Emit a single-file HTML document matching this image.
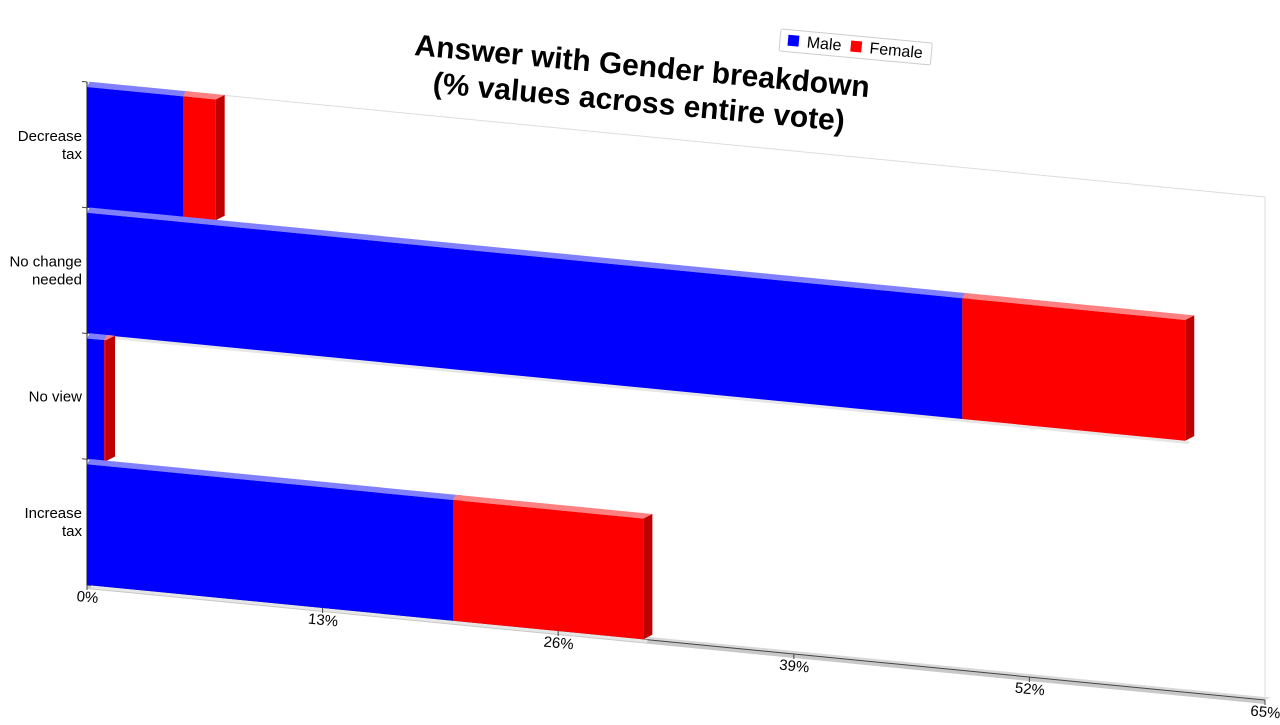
<!DOCTYPE html>
<html><head><meta charset="utf-8"><style>
body{margin:0;background:#fff;width:1280px;height:720px;overflow:hidden;font-family:"Liberation Sans",sans-serif}
</style></head><body>
<svg id="chart" width="1280" height="720" viewBox="0 0 1280 720" xmlns="http://www.w3.org/2000/svg">
<g transform="translate(640,90) rotate(5.3)">
<text x="0" y="-14" text-anchor="middle" font-size="30" font-weight="bold" fill="#000">Answer with Gender breakdown</text>
<text x="0" y="22" text-anchor="middle" font-size="30" font-weight="bold" fill="#000">(% values across entire vote)</text>
</g>
<g transform="translate(781,29) rotate(5.3)">
<rect x="0" y="0" width="152" height="22" fill="#fff" stroke="#ccc" rx="2"/>
<rect x="8" y="5" width="11" height="11" fill="#0000ff"/>
<text x="27" y="16" font-size="16">Male</text>
<rect x="71" y="5" width="11" height="11" fill="#ff0000"/>
<text x="90" y="16" font-size="16">Female</text>
</g>
<g id="plot"></g>
<g id="labels"></g>
</svg>
<script>
const categories=["Decrease tax","No change needed","No view","Increase tax"];
const categoryLines=[["Decrease","tax"],["No change","needed"],["No view"],["Increase","tax"]];
const maleValues=[5.3,48.3,0.95,20.2];
const femaleValues=[1.8,12.3,0.1,10.5];
const tickValues=[0,13,26,39,52,65];
const tickLabels=["0%","13%","26%","39%","52%","65%"];

const NS="http://www.w3.org/2000/svg";
const X0=87,X1=1265,MAXV=65,TOP=82,BOT=585,K=115/1178;
const xs=v=>X0+(v/MAXV)*(X1-X0);
const band=(BOT-TOP)/categories.length;
const plot=document.getElementById('plot');
const labels=document.getElementById('labels');
function mk(tag,attrs,parent){const e=document.createElementNS(NS,tag);for(const k in attrs)e.setAttribute(k,attrs[k]);parent.appendChild(e);return e;}
const g=mk('g',{transform:`matrix(1,${K},0,1,0,${-X0*K})`},plot);
// back wall / floor
const floor=mk('polygon',{points:`${X0},${BOT} ${X1},${BOT} ${X1+6},${BOT-3} ${X0+6},${BOT-3}`,fill:'#d8d8d8'},g);


const floor2=mk('rect',{x:X0,y:BOT,width:X1-X0,height:4,fill:'#c8c8c8'},g);


const wall=mk('polyline',{points:`${X0},${BOT} ${X0},${TOP} ${X1},${TOP} ${X1},${BOT}`,fill:'none',stroke:'#ddd','stroke-width':1},g);


const yaxis=mk('line',{x1:X0,y1:TOP,x2:X0,y2:BOT,stroke:'#444','stroke-width':1.2},g);


const xaxis=mk('line',{x1:X0,y1:BOT,x2:X1,y2:BOT,stroke:'#444','stroke-width':1},g);


const DX=9,DY=-5.5;
function bar3d(x0,x1,y0,y1,front,top,side,name){
  const bg=mk('g',{},g);
  
  
  mk('polygon',{points:`${x0},${y0} ${x1},${y0} ${x1+DX},${y0+DY} ${x0+DX*0.3},${y0+DY}`,fill:top},bg);
  mk('rect',{x:x0,y:y0,width:Math.max(x1-x0,0.5),height:y1-y0,fill:front},bg);
  mk('polygon',{points:`${x1},${y0} ${x1+DX},${y0+DY} ${x1+DX},${y1+DY} ${x1},${y1}`,fill:side},bg);
}
categories.forEach((c,i)=>{
  const y0=TOP+i*band+5,y1=TOP+(i+1)*band;
  const xm=xs(maleValues[i]),xf=xs(maleValues[i]+femaleValues[i]);
  mk('rect',{x:X0+4,y:y1,width:xf-X0,height:3,fill:'#e6e6e6'},g);
  bar3d(X0,xm,y0,y1,'#0000ff','#8080ff','#0000b0','bar-male-'+i);
  bar3d(xm,xf,y0,y1,'#ff0000','#ff8080','#c00000','bar-female-'+i);
  const tk=mk('line',{x1:X0-5,y1:TOP+i*band,x2:X0,y2:TOP+i*band,stroke:'#444'},g);
  
  
  const lines=categoryLines[i];const cy=TOP+(i+0.5)*band;
  const t=mk('text',{x:82,y:cy-(lines.length-1)*9+5,'text-anchor':'end','font-size':15,fill:'#000'},labels);
  
  
  lines.forEach((l,j)=>{const s=mk('tspan',{x:82,dy:j?18:0},t);s.textContent=l;});
});
tickValues.forEach((v,i)=>{
  const x=xs(v);
  const tk=mk('line',{x1:x,y1:BOT,x2:x,y2:BOT+5,stroke:'#444'},g);
  
  
  const y=BOT+(x-X0)*K+17;
  const t=mk('text',{x:x,y:y,'text-anchor':'middle','font-size':15,fill:'#000',transform:`rotate(5.5 ${x} ${y})`},labels);
  
  
  t.textContent=tickLabels[i];
});
</script>
</body></html>
